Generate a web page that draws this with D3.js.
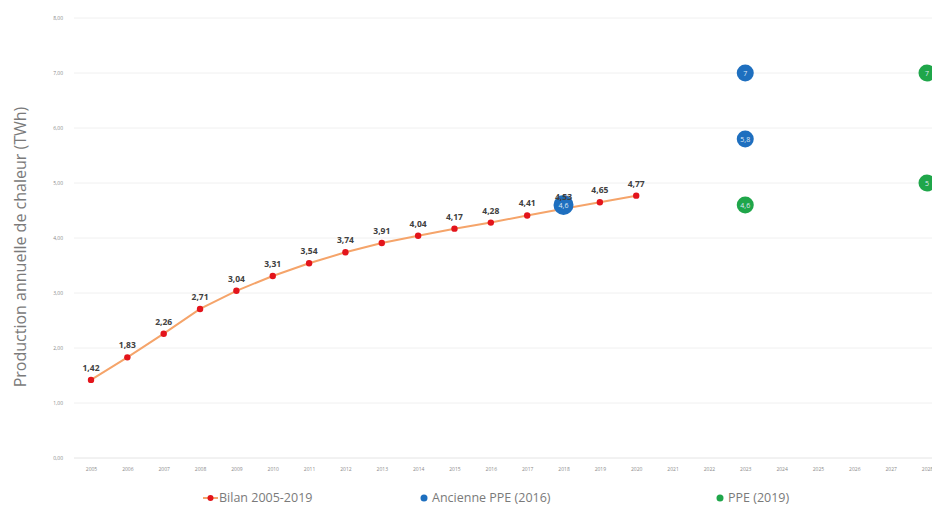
<!DOCTYPE html>
<html lang="fr">
<head>
<meta charset="UTF-8">
<title>Production annuelle de chaleur</title>
<style>
  body { margin: 0; background: #fff; overflow: hidden; }
  svg { display: block; font-family: "Open Sans", "Liberation Sans", sans-serif; }
</style>
</head>
<body>
<svg width="932" height="506"></svg>
<script src="https://d3js.org/d3.v7.min.js"></script>
<script>
// years on the axis (the picture is cut after 2028)
var years = d3.range(2005, 2029).map(String);
var yTicks = [0, 1, 2, 3, 4, 5, 6, 7, 8];

// Bilan 2005-2019
var bilanYears = ["2005","2006","2007","2008","2009","2010","2011","2012","2013","2014","2015","2016","2017","2018","2019","2020"];
var bilanValues = [1.42, 1.83, 2.26, 2.71, 3.04, 3.31, 3.54, 3.74, 3.91, 4.04, 4.17, 4.28, 4.41, 4.53, 4.65, 4.77];

// Ancienne PPE (2016)
var ancYears = ["2018", "2023", "2023"];
var ancValues = [4.6, 7, 5.8];
var ancLabels = ["4,6", "7", "5,8"];

// PPE (2019)
var ppeYears = ["2023", "2028", "2028"];
var ppeValues = [4.6, 7, 5];
var ppeLabels = ["4,6", "7", "5"];

var svg = d3.select("svg");

var x = d3.scalePoint()
    .domain(years)
    .range([91, 927]);

var y = d3.scaleLinear()
    .domain([0, 8])
    .range([458, 18]);

var fmt = function(d) { return d3.format(".2f")(d).replace(".", ","); };

// grid
svg.append("g")
    .selectAll("line")
    .data(yTicks)
    .enter().append("line")
    .attr("x1", 74)
    .attr("x2", 932)
    .attr("y1", function(d) { return y(d); })
    .attr("y2", function(d) { return y(d); })
    .attr("stroke", function(d) { return d === 0 ? "#e4e4e4" : "#f0f0f0"; })
    .attr("stroke-width", 1);

// y axis labels
var yAxis = svg.append("g")
    .attr("transform", "translate(66,0)")
    .call(d3.axisLeft(y).tickValues(yTicks).tickFormat(fmt).tickSize(0));
yAxis.select(".domain").remove();
yAxis.selectAll("text")
    .attr("fill", "#8a8a8a")
    .attr("font-size", 5)
    .attr("font-family", "'Open Sans', sans-serif");

// x axis labels
var xAxis = svg.append("g")
    .attr("transform", "translate(0,464)")
    .call(d3.axisBottom(x).tickSize(0));
xAxis.select(".domain").remove();
xAxis.selectAll("text")
    .attr("fill", "#8a8a8a")
    .attr("font-size", 5)
    .attr("font-family", "'Open Sans', sans-serif");

// y title
svg.append("text")
    .attr("transform", "translate(26,247) rotate(-90)")
    .attr("text-anchor", "middle")
    .attr("fill", "#7a7a7a")
    .attr("font-size", 16)
    .text("Production annuelle de chaleur (TWh)");

// Bilan line
var bilan = bilanYears.map(function(d, i) { return { year: d, value: bilanValues[i] }; });

svg.append("path")
    .datum(bilan)
    .attr("fill", "none")
    .attr("stroke", "#f5a46a")
    .attr("stroke-width", 2)
    .attr("d", d3.line()
        .x(function(d) { return x(d.year); })
        .y(function(d) { return y(d.value); }));

// Bilan markers
svg.append("g")
    .selectAll("circle")
    .data(bilan)
    .enter().append("circle")
    .attr("cx", function(d) { return x(d.year); })
    .attr("cy", function(d) { return y(d.value); })
    .attr("r", 3.2)
    .attr("fill", "#e3141b");

// Ancienne PPE / PPE bubbles
function bubbles(yrs, vals, labels, color, radius) {
    var g = svg.append("g");
    var data = yrs.map(function(d, i) { return { year: d, value: vals[i], label: labels[i] }; });
    g.selectAll("circle")
        .data(data)
        .enter().append("circle")
        .attr("cx", function(d) { return x(d.year); })
        .attr("cy", function(d) { return y(d.value); })
        .attr("r", function(d, i) { return radius[i]; })
        .attr("fill", color);
    g.selectAll("text")
        .data(data)
        .enter().append("text")
        .attr("x", function(d) { return x(d.year); })
        .attr("y", function(d) { return y(d.value) + 2.5; })
        .attr("text-anchor", "middle")
        .attr("fill", "#dfe9f5")
        .attr("font-size", 7)
        .text(function(d) { return d.label; });
}

bubbles(ancYears, ancValues, ancLabels, "#1e6fbf", [10, 8.5, 8.5]);
bubbles(ppeYears, ppeValues, ppeLabels, "#1fa64a", [8.5, 8.5, 8.5]);

// Bilan labels (on top)
svg.append("g")
    .selectAll("text")
    .data(bilan)
    .enter().append("text")
    .attr("x", function(d) { return x(d.year); })
    .attr("y", function(d) { return y(d.value) - 9; })
    .attr("text-anchor", "middle")
    .attr("fill", "#404040")
    .attr("font-size", 8.5)
    .attr("font-weight", "bold")
    .text(function(d) { return d.value.toFixed(2).replace(".", ","); });

// legend
var legend = svg.append("g").attr("font-size", 12.5).attr("fill", "#7a7a7a");

legend.append("line")
    .attr("x1", 203).attr("x2", 218).attr("y1", 498).attr("y2", 498)
    .attr("stroke", "#f5a46a").attr("stroke-width", 2);
legend.append("circle").attr("cx", 210.5).attr("cy", 498).attr("r", 3).attr("fill", "#e3141b");
legend.append("text").attr("x", 219).attr("y", 502).text("Bilan 2005-2019");

legend.append("circle").attr("cx", 424).attr("cy", 498).attr("r", 3.5).attr("fill", "#1e6fbf");
legend.append("text").attr("x", 432).attr("y", 502).text("Ancienne PPE (2016)");

legend.append("circle").attr("cx", 720).attr("cy", 498).attr("r", 3.5).attr("fill", "#1fa64a");
legend.append("text").attr("x", 728).attr("y", 502).text("PPE (2019)");
</script>
</body>
</html>
